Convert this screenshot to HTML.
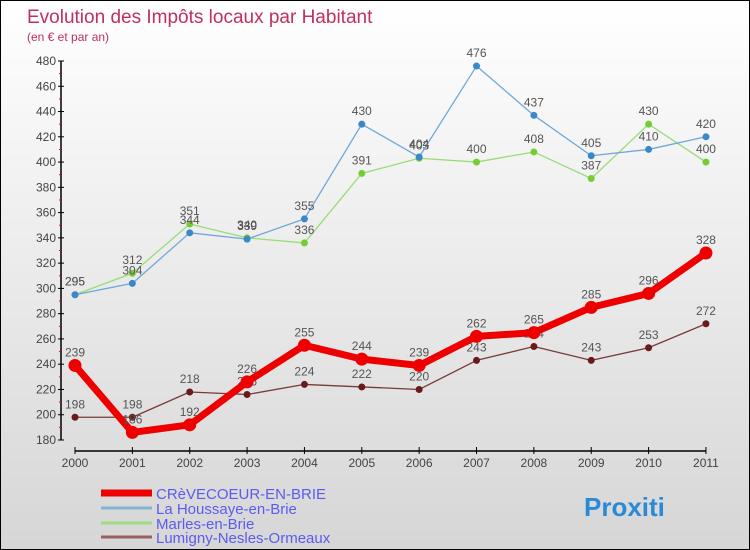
<!DOCTYPE html>
<html><head><meta charset="utf-8"><style>
body{margin:0;}
#c{position:relative;width:748px;height:548px;border:1px solid #000;background:linear-gradient(#ffffff,#d6d6d6);font-family:"Liberation Sans",sans-serif;overflow:hidden}
svg{position:absolute;left:0;top:0}
</style></head><body>
<div id="c">
<svg id="s" width="748" height="548">
<text x="26" y="22" font-size="19" fill="#c0305a">Evolution des Impôts locaux par Habitant</text>
<text x="26" y="40" font-size="12" fill="#c0305a">(en € et par an)</text>
</svg>
</div>
<script>
const years=["2000","2001","2002","2003","2004","2005","2006","2007","2008","2009","2010","2011"];
const crevecoeur=[239,186,192,226,255,244,239,262,265,285,296,328];
const houssaye=[295,304,344,339,355,430,404,476,437,405,410,420];
const marles=[295,312,351,340,336,391,403,400,408,387,430,400];
const lumigny=[198,198,218,216,224,222,220,243,254,243,253,272];
const yTicks=[180,200,220,240,260,280,300,320,340,360,380,400,420,440,460,480];
const seriesNames=["CRèVECOEUR-EN-BRIE","La Houssaye-en-Brie","Marles-en-Brie","Lumigny-Nesles-Ormeaux"];
const NS="http://www.w3.org/2000/svg";
const s=document.getElementById('s');
function X(i){return 74+i*57.36;}
function Y(v){return 439-(v-180)*(379/300);}
function mk(t,a,p){const e=document.createElementNS(NS,t);for(const k in a)e.setAttribute(k,a[k]);(p||s).appendChild(e);return e;}
// axes
let ya=mk('line',{x1:60,y1:Y(480),x2:60,y2:Y(180),stroke:'#000','stroke-width':1.5});


let xa=mk('line',{x1:X(0),y1:450,x2:X(11),y2:450,stroke:'#000','stroke-width':1.5});


yTicks.forEach((v,i)=>{
  mk('line',{x1:57,y1:Y(v),x2:63,y2:Y(v),stroke:'#000'});
  if(i<yTicks.length-1)mk('line',{x1:58,y1:Y(v+10),x2:60,y2:Y(v+10),stroke:'#e00'});
  const t=mk('text',{x:55,y:Y(v)+4,'font-size':12,fill:'#444','text-anchor':'end'});
  t.textContent=v;
  
  
});
years.forEach((y,i)=>{
  mk('line',{x1:X(i),y1:446,x2:X(i),y2:453,stroke:'#000'});
  const t=mk('text',{x:X(i),y:466,'font-size':12,fill:'#444','text-anchor':'middle'});
  t.textContent=y;
  
  
});
function series(d,color,dot,w,r,name){
  const g=mk('g',{});
  
  
  mk('polyline',{points:d.map((v,i)=>X(i)+','+Y(v)).join(' '),fill:'none',stroke:color,'stroke-width':w,'stroke-linejoin':'round'},g);
  d.forEach((v,i)=>{
    const c=mk('circle',{cx:X(i),cy:Y(v),r:r,fill:dot},g);
    
    
    const t=mk('text',{x:X(i),y:Y(v)-9,'font-size':12,fill:'#555','text-anchor':'middle'},g);
    t.textContent=v;
  });
}
series(lumigny,'#7a3a3a','#6a1a1a',1.3,3.5,'series-lumigny');
series(marles,'#99dd77','#77cc33',1.3,3.5,'series-marles');
series(houssaye,'#6fa8d8','#3a88c8',1.3,3.5,'series-houssaye');
series(crevecoeur,'#ee0000','#ee0000',7,6.5,'series-crevecoeur');
// legend
const lc=['#ee0000','#88b4d4','#9fdc80','#9a6060'],lw=[7,3,3,3],ly=[492,507,522,536];
seriesNames.forEach((n,i)=>{
  const g=mk('g',{});
  
  
  mk('line',{x1:100,y1:ly[i],x2:151,y2:ly[i],stroke:lc[i],'stroke-width':lw[i]},g);
  const t=mk('text',{x:155,y:ly[i]+6,'font-size':15,fill:'#5b5bf0'},g);
  t.textContent=n;
});
const lg=mk('text',{x:583,y:515,'font-size':26,'font-weight':'bold',fill:'#2a8ad8'});
lg.textContent='Proxiti';


</script>
</body></html>
